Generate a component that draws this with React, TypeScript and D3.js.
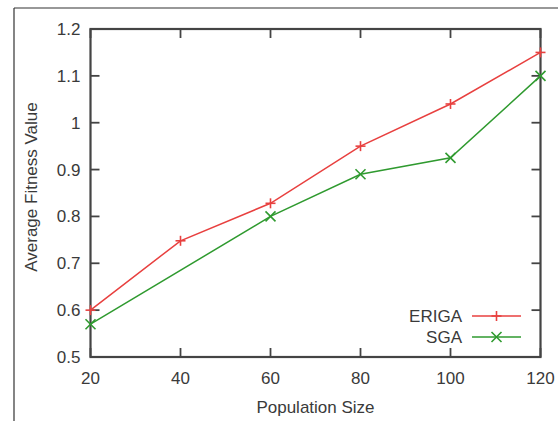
import React from "react";
import * as d3 from "d3";

const xTicks = [20, 40, 60, 80, 100, 120];
const yTicks = [0.5, 0.6, 0.7, 0.8, 0.9, 1.0, 1.1, 1.2];
const yTickLabels = ["0.5", "0.6", "0.7", "0.8", "0.9", "1", "1.1", "1.2"];
const erigaX = [20, 40, 60, 80, 100, 120];
const erigaY = [0.6, 0.748, 0.828, 0.95, 1.04, 1.15];
const sgaX = [20, 60, 80, 100, 120];
const sgaY = [0.57, 0.8, 0.89, 0.925, 1.1];
const seriesNames = ["ERIGA", "SGA"];
const xTitle = "Population Size";
const yTitle = "Average Fitness Value";

const W = 558, H = 421;
const L = 90.5, R = 540.5, T = 29, B = 357;
const RED = "#e8403f";
const GREEN = "#2f9a2f";
const AX = "#444";
const TXT = "#3a3a3a";
const FONT = "'Liberation Sans', Arial, sans-serif";
const FS = 17;

function Plus({ x, y, c }: { x: number; y: number; c: string }) {
  const s = 5;
  return (
    <g stroke={c} strokeWidth={1.6}>
      <line x1={x - s} x2={x + s} y1={y} y2={y} />
      <line x1={x} x2={x} y1={y - s} y2={y + s} />
    </g>
  );
}
function Cross({ x, y, c }: { x: number; y: number; c: string }) {
  const s = 5;
  return (
    <g stroke={c} strokeWidth={1.6}>
      <line x1={x - s} x2={x + s} y1={y - s} y2={y + s} />
      <line x1={x - s} x2={x + s} y1={y + s} y2={y - s} />
    </g>
  );
}

export default function App() {
  const x = d3.scaleLinear().domain([20, 120]).range([L, R]);
  const y = d3.scaleLinear().domain([0.5, 1.2]).range([B, T]);
  const line = d3.line<[number, number]>().x((d) => x(d[0])).y((d) => y(d[1]));
  const eriga = erigaX.map((v, i) => [v, erigaY[i]] as [number, number]);
  const sga = sgaX.map((v, i) => [v, sgaY[i]] as [number, number]);
  const tl = 9;
  return (
    <svg width={W} height={H} style={{ position: "absolute", left: 0, top: 0 }}>
      <rect width={W} height={H} fill="#fff" />
      <line x1={14} x2={W} y1={8} y2={8} stroke="#333" strokeWidth={1.2} />
      <line x1={14} x2={14} y1={8} y2={H} stroke="#333" strokeWidth={1.2} />
      {yTicks.map((t, i) => (
        <g key={"y" + i}>
          <line x1={L} x2={L + tl} y1={y(t)} y2={y(t)} stroke={AX} strokeWidth={1.8} />
          <line x1={R} x2={R - tl} y1={y(t)} y2={y(t)} stroke={AX} strokeWidth={1.8} />
          <text x={L - 10} y={y(t)} dy="0.35em" textAnchor="end" fontFamily={FONT} fontSize={FS} fill={TXT}>
            {yTickLabels[i]}
          </text>
        </g>
      ))}
      {xTicks.map((t, i) => (
        <g key={"x" + i}>
          <line x1={x(t)} x2={x(t)} y1={B} y2={B - tl} stroke={AX} strokeWidth={1.8} />
          <line x1={x(t)} x2={x(t)} y1={T} y2={T + tl} stroke={AX} strokeWidth={1.8} />
          <text x={x(t)} y={B + 27} textAnchor="middle" fontFamily={FONT} fontSize={FS} fill={TXT}>
            {t}
          </text>
        </g>
      ))}
      <rect x={L} y={T} width={R - L} height={B - T} fill="none" stroke={AX} strokeWidth={2.2} />
      <path d={line(eriga) || ""} fill="none" stroke={RED} strokeWidth={1.5} />
      <path d={line(sga) || ""} fill="none" stroke={GREEN} strokeWidth={1.5} />
      {eriga.map((d, i) => <Plus key={"e" + i} x={x(d[0])} y={y(d[1])} c={RED} />)}
      {sga.map((d, i) => <Cross key={"s" + i} x={x(d[0])} y={y(d[1])} c={GREEN} />)}
      <text x={462} y={316} dy="0.35em" textAnchor="end" fontFamily={FONT} fontSize={FS} fill={TXT}>{seriesNames[0]}</text>
      <line x1={472} x2={521} y1={316} y2={316} stroke={RED} strokeWidth={1.5} />
      <Plus x={496.5} y={316} c={RED} />
      <text x={462} y={337} dy="0.35em" textAnchor="end" fontFamily={FONT} fontSize={FS} fill={TXT}>{seriesNames[1]}</text>
      <line x1={472} x2={521} y1={337} y2={337} stroke={GREEN} strokeWidth={1.5} />
      <Cross x={496.5} y={337} c={GREEN} />
      <text x={315.5} y={413} textAnchor="middle" fontFamily={FONT} fontSize={FS} fill={TXT}>{xTitle}</text>
      <text transform="translate(37,187) rotate(-90)" textAnchor="middle" fontFamily={FONT} fontSize={FS} fill={TXT}>{yTitle}</text>
    </svg>
  );
}
